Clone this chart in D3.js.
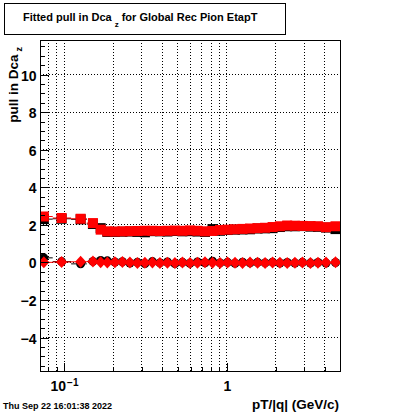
<!DOCTYPE html>
<html><head><meta charset="utf-8">
<script src="https://cdn.jsdelivr.net/npm/d3@7"></script>
<style>
body{margin:0;background:#fff}
svg{display:block}
text{font-family:"Liberation Sans",Arial,Helvetica,sans-serif;font-weight:bold;fill:#000}
</style>
</head><body>
<svg id="c" width="400" height="414"></svg>
<script>
// ---- data ----
const pT = [0.0755,0.0971,0.1271,0.1513,0.1688,0.1855,0.2064,0.2296,0.2553,0.2839,0.3157,0.3512,0.3905,0.4343,0.4830,0.5372,0.5975,0.6645,0.7392,0.8222,0.9146,1.017,1.131,1.258,1.399,1.556,1.731,1.925,2.135,2.368,2.641,2.938,3.290,3.660,4.101,4.691];
const widthRed = [2.42,2.34,2.30,2.07,1.72,1.63,1.62,1.63,1.64,1.65,1.66,1.66,1.65,1.66,1.67,1.66,1.68,1.66,1.63,1.65,1.70,1.72,1.74,1.76,1.78,1.80,1.82,1.86,1.90,1.94,1.93,1.92,1.91,1.90,1.85,1.90];
const widthBlack = [2.28,2.30,2.27,2.02,1.80,1.60,1.60,1.61,1.62,1.60,1.58,1.64,1.63,1.62,1.65,1.63,1.64,1.62,1.60,1.75,1.66,1.70,1.72,1.73,1.74,1.78,1.79,1.80,1.86,1.90,1.90,1.91,1.88,1.87,1.83,1.75];
const meanRed = [-0.02,0.0,0.01,0.02,-0.02,-0.03,-0.02,0.0,-0.03,-0.05,-0.04,-0.03,-0.05,-0.04,-0.06,-0.03,-0.05,-0.04,-0.02,-0.04,-0.05,-0.03,-0.04,-0.05,-0.03,-0.04,-0.05,-0.03,-0.04,-0.05,-0.04,-0.03,-0.05,-0.04,-0.03,-0.02];
const meanBlack = [0.22,0.02,-0.10,0.03,0.08,0.06,0.0,0.01,-0.06,-0.02,-0.08,0.02,-0.05,0.0,-0.09,-0.02,-0.07,0.0,-0.04,0.04,-0.05,-0.02,-0.07,-0.01,-0.05,-0.02,-0.05,-0.01,-0.06,-0.03,-0.06,-0.02,-0.06,-0.03,-0.06,-0.03];

const yMajor = [-4,-2,0,2,4,6,8,10];
const yTickLabels = ["\u22124","\u22122","0","2","4","6","8","10"];
const xMajor = [0.1,1];
const xTickBase = ["10","1"];
const xTickExp = ["\u22121",""];
const xMinor = [0.08,0.09,0.2,0.3,0.4,0.5,0.6,0.7,0.8,0.9,2,3,4];
const xDomain = [0.0715,5.0];
const yDomain = [-5.8,11.81];

const titleMain = "Fitted pull in Dca";
const titleSub = "z";
const titleRest = " for Global Rec Pion EtapT";
const yTitle = "pull in Dca";
const yTitleSub = "z";
const xTitle = "pT/|q| (GeV/c)";
const stamp = "Thu Sep 22 16:01:38 2022";

// ---- layout ----
const L=40,R=340,T=40,B=371;
const svg = d3.select("#c");
const x = d3.scaleLog().domain(xDomain).range([L,R]);
const y = d3.scaleLinear().domain(yDomain).range([B,T]);
const px = v => Math.round(v)+0.5;

const yMinor = d3.range(-5.5,11.6,0.5).filter(v=>!yMajor.includes(v));

// grid
const grid = svg.append("g").attr("stroke","#000").attr("stroke-width",1).attr("stroke-dasharray","1,2");
xMajor.concat(xMinor).forEach(v=>{
  grid.append("line").attr("x1",px(x(v))).attr("x2",px(x(v))).attr("y1",T).attr("y2",B);
});
yMajor.forEach(v=>{
  grid.append("line").attr("x1",L).attr("x2",R).attr("y1",px(y(v))).attr("y2",px(y(v)));
});

// bin edges (geometric midpoints)
const edges = [];
for(let i=0;i<=pT.length;i++){
  if(i===0) edges.push(pT[0]*pT[0]/Math.sqrt(pT[0]*pT[1]));
  else if(i===pT.length) edges.push(pT[i-1]*pT[i-1]/Math.sqrt(pT[i-2]*pT[i-1]));
  else edges.push(Math.sqrt(pT[i-1]*pT[i]));
}

const plot = svg.append("g");
plot.append("clipPath").attr("id","clip").append("rect").attr("x",L).attr("y",T).attr("width",R-L).attr("height",B-T);
const pg = plot.append("g").attr("clip-path","url(#clip)");

function bars(vals,color){
  pg.append("g").selectAll("line").data(vals).join("line")
    .attr("x1",(d,i)=>x(edges[i])).attr("x2",(d,i)=>x(edges[i+1]))
    .attr("y1",d=>y(d)).attr("y2",d=>y(d))
    .attr("stroke",color).attr("stroke-width",1);
}
function squares(vals,color,s){
  pg.append("g").selectAll("rect").data(vals).join("rect")
    .attr("x",(d,i)=>x(pT[i])-s/2).attr("y",d=>y(d)-s/2)
    .attr("width",s).attr("height",s).attr("fill",color);
}
function circles(vals,color,r){
  pg.append("g").selectAll("circle").data(vals).join("circle")
    .attr("cx",(d,i)=>x(pT[i])).attr("cy",d=>y(d)).attr("r",r).attr("fill",color);
}
function diamonds(vals,color,w,h){
  pg.append("g").selectAll("path").data(vals).join("path")
    .attr("d",(d,i)=>{const cx=x(pT[i]),cy=y(d);return `M${cx},${cy-h/2}L${cx+w/2},${cy}L${cx},${cy+h/2}L${cx-w/2},${cy}Z`;})
    .attr("fill",color);
}

bars(widthBlack,"#000"); bars(meanBlack,"#000");
squares(widthBlack,"#000",10); circles(meanBlack,"#000",4.5);
bars(widthRed,"#f00"); bars(meanRed,"#f00");
squares(widthRed,"#f00",10); diamonds(meanRed,"#f00",11,12);

// axes
const yAx = svg.append("g").attr("transform",`translate(${L+0.5},0)`)
  .call(d3.axisLeft(y).tickValues(yMajor).tickSize(-8).tickPadding(4).tickFormat((d,i)=>yTickLabels[i]));
const yAxMin = svg.append("g").attr("transform",`translate(${L+0.5},0)`)
  .call(d3.axisLeft(y).tickValues(yMinor).tickSize(-4).tickFormat(""));
const xAx = svg.append("g").attr("transform",`translate(0,${B+0.5})`)
  .call(d3.axisBottom(x).tickValues(xMajor).tickSize(-9).tickPadding(10).tickFormat(""));
const xAxMin = svg.append("g").attr("transform",`translate(0,${B+0.5})`)
  .call(d3.axisBottom(x).tickValues(xMinor).tickSize(-5).tickFormat(""));
[yAx,yAxMin,xAx,xAxMin].forEach(g=>{
  g.select(".domain").remove();
  g.selectAll(".tick line").attr("stroke","#000").attr("shape-rendering","crispEdges");
  const isY = (g===yAx||g===yAxMin);
  g.selectAll(".tick").attr("transform",function(){
    const t=d3.select(this).attr("transform");
    return t.replace(/translate\(([-\d.e]+),([-\d.e]+)\)/,(m,a,b)=>`translate(${isY?a:px(+a)},${isY?px(+b):b})`);
  });
});
yAx.selectAll(".tick text").attr("font-size",14).attr("font-family",null).attr("font-weight","bold").attr("dy","0.36em");
xAx.selectAll(".tick text").each(function(d,i){
  const t=d3.select(this).attr("font-size",14).attr("font-family",null);
  t.text(null);
  t.append("tspan").text(xTickBase[i]);
  if(xTickExp[i]) t.append("tspan").attr("font-size",10).attr("dy","-0.55em").attr("dx","1").text(xTickExp[i]);
});

// frame
svg.append("rect").attr("x",L+0.5).attr("y",T+0.5).attr("width",R-L).attr("height",B-T)
  .attr("fill","none").attr("stroke","#000").attr("stroke-width",1);

// title box
svg.append("rect").attr("x",4.5).attr("y",3.5).attr("width",281).attr("height",31)
  .attr("fill","#fff").attr("stroke","#000").attr("stroke-width",1);
const tt = svg.append("text").attr("x",23).attr("y",21).attr("font-size",11);
tt.append("tspan").text(titleMain);
tt.append("tspan").attr("font-size",8).attr("dx",3).attr("dy",6).text(titleSub);
tt.append("tspan").attr("dy",-6).text(titleRest);

// y title
const yt = svg.append("text").attr("transform","translate(17.5,47) rotate(-90)")
  .attr("text-anchor","end").attr("font-size",13.5);
yt.append("tspan").text(yTitle);
yt.append("tspan").attr("font-size",9).attr("dx",3).attr("dy",4).text(yTitleSub);

// x title
svg.append("text").attr("x",339).attr("y",409).attr("text-anchor","end").attr("font-size",13.5).text(xTitle);

// time stamp
svg.append("text").attr("x",3).attr("y",409).attr("font-size",9).text(stamp);
</script>
</body></html>
